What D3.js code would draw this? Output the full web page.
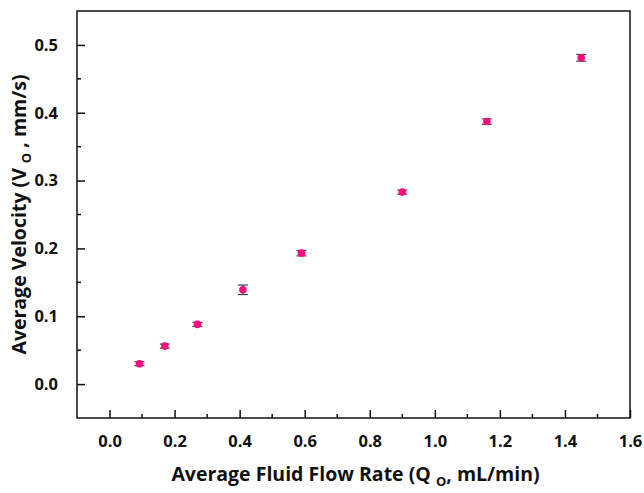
<!DOCTYPE html>
<html>
<head>
    <meta charset="utf-8">
    <title>Average Velocity vs Flow Rate</title>
    <script src="https://d3js.org/d3.v7.min.js"></script>
    <style>
        body { margin: 0; background: #fff; }
        text { font-family: "Open Sans", "DejaVu Sans", sans-serif; font-weight: bold; fill: #111; }
        .frame { fill: none; stroke: #111; stroke-width: 1.5px; }
    </style>
</head>
<body>
    <div id="chart"></div>
    <script>
        // data
        const flowRate = [0.092, 0.17, 0.27, 0.41, 0.59, 0.90, 1.16, 1.45];
        const velocity = [0.030, 0.056, 0.088, 0.139, 0.193, 0.283, 0.387, 0.481];
        const velErr   = [0.003, 0.003, 0.003, 0.007, 0.004, 0.003, 0.004, 0.005];
        const xTicks = [0.0, 0.2, 0.4, 0.6, 0.8, 1.0, 1.2, 1.4, 1.6];
        const yTicks = [0.0, 0.1, 0.2, 0.3, 0.4, 0.5];

        const width = 644, height = 493;
        const margin = { top: 11, right: 14, bottom: 75, left: 77 };

        const svg = d3.select("#chart").append("svg")
            .attr("width", width)
            .attr("height", height);

        const x = d3.scaleLinear().domain([-0.1, 1.6]).range([margin.left, width - margin.right]);
        const y = d3.scaleLinear().domain([-0.05, 0.55]).range([height - margin.bottom, margin.top]);

        const x0 = x.range()[0], x1 = x.range()[1];
        const y0 = y.range()[0], y1 = y.range()[1];

        // frame
        svg.append("rect").attr("class", "frame")
            .attr("x", x0).attr("y", y1)
            .attr("width", x1 - x0).attr("height", y0 - y1);

        // x axis (ticks inward)
        const xAxis = d3.axisBottom(x).tickValues(xTicks).tickFormat(d3.format(".1f"))
            .tickSizeInner(-8).tickSizeOuter(0).tickPadding(17);
        const gx = svg.append("g").attr("transform", `translate(0,${y0})`).call(xAxis);
        gx.select(".domain").remove();
        gx.selectAll("line").attr("stroke", "#111").attr("stroke-width", 1.5);
        gx.selectAll("text").style("font-size", "16.5px");

        const xMinor = d3.range(0.1, 1.6, 0.2);
        svg.append("g").selectAll("line").data(xMinor).join("line")
            .attr("x1", d => x(d)).attr("x2", d => x(d))
            .attr("y1", y0).attr("y2", y0 - 4)
            .attr("stroke", "#111").attr("stroke-width", 1.5);

        // y axis (ticks inward)
        const yAxis = d3.axisLeft(y).tickValues(yTicks).tickFormat(d3.format(".1f"))
            .tickSizeInner(-8).tickSizeOuter(0).tickPadding(19);
        const gy = svg.append("g").attr("transform", `translate(${x0},0)`).call(yAxis);
        gy.select(".domain").remove();
        gy.selectAll("line").attr("stroke", "#111").attr("stroke-width", 1.5);
        gy.selectAll("text").style("font-size", "16.5px");

        const yMinor = [0.05, 0.15, 0.25, 0.35, 0.45];
        svg.append("g").selectAll("line").data(yMinor).join("line")
            .attr("x1", x0).attr("x2", x0 + 4)
            .attr("y1", d => y(d)).attr("y2", d => y(d))
            .attr("stroke", "#111").attr("stroke-width", 1.5);

        // error bars
        const pts = flowRate.map((q, i) => ({ q: q, v: velocity[i], e: velErr[i] }));
        const eb = svg.append("g").attr("stroke", "#444").attr("stroke-width", 1.2);
        pts.forEach(d => {
            eb.append("line").attr("x1", x(d.q)).attr("x2", x(d.q))
                .attr("y1", y(d.v - d.e)).attr("y2", y(d.v + d.e));
            [d.v - d.e, d.v + d.e].forEach(v => {
                eb.append("line").attr("x1", x(d.q) - 5).attr("x2", x(d.q) + 5)
                    .attr("y1", y(v)).attr("y2", y(v));
            });
        });

        // points
        svg.append("g").selectAll("circle").data(pts).join("circle")
            .attr("cx", d => x(d.q)).attr("cy", d => y(d.v))
            .attr("r", 3.8).attr("fill", "#ff0a7f");

        // axis titles
        const xt = svg.append("text")
            .attr("x", (x0 + x1) / 2 + 2).attr("y", 481)
            .attr("text-anchor", "middle").style("font-size", "19.5px");
        xt.append("tspan").text("Average Fluid Flow Rate (Q ");
        xt.append("tspan").attr("dy", 5).style("font-size", "13px").text("O");
        xt.append("tspan").attr("dy", -5).text(", mL/min)");

        const yt = svg.append("text")
            .attr("transform", `translate(26,${(y0 + y1) / 2}) rotate(-90)`)
            .attr("text-anchor", "middle").style("font-size", "19.5px");
        yt.append("tspan").text("Average Velocity (V ");
        yt.append("tspan").attr("dy", 5).style("font-size", "13px").text("O");
        yt.append("tspan").attr("dy", -5).text(" , mm/s)");
    </script>
</body>
</html>
